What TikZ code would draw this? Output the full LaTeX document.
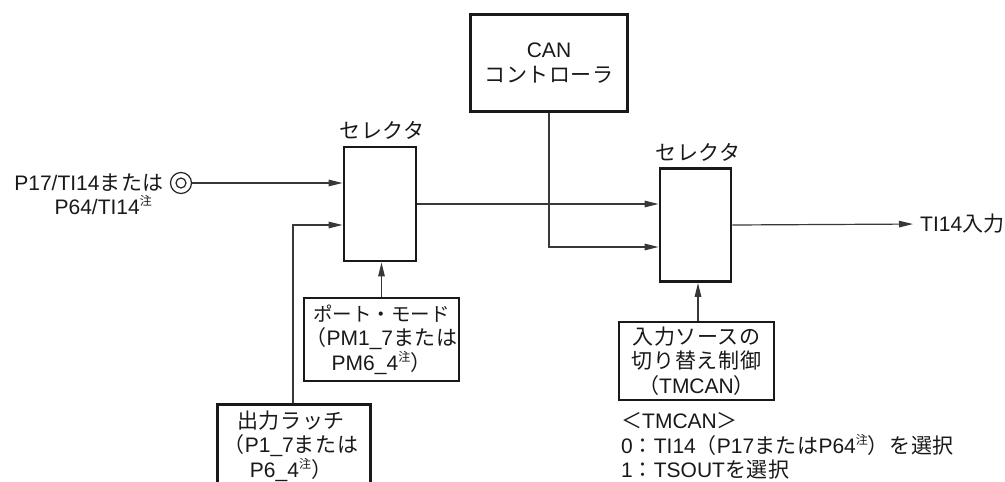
\documentclass[tikz,border=0pt]{standalone}
\usepackage{fontspec}
\setmainfont{Liberation Sans}
\newfontfamily\jp{Noto Sans CJK JP}[LetterSpace=3]
\newfontfamily\jpn{Noto Sans CJK JP}
\usetikzlibrary{arrows.meta}
\newcommand\J[1]{{\jp #1}}
\newcommand\chu{\raisebox{0.75ex}{\fontsize{12}{12}\selectfont\jp 注}}
\begin{document}
\begin{tikzpicture}[x=1pt,y=-1pt,
  box/.style={draw=black!90, line width=2.8pt, inner sep=0, align=center,
              font=\fontsize{21}{24.5}\selectfont, text=black!90},
  txt/.style={font=\fontsize{21}{24.5}\selectfont, inner sep=0, text=black!90},
  wire/.style={draw=black!78, line width=1.2pt},
  arr/.style={wire, -{Triangle[length=14pt,width=6.5pt]}},
]
\clip (0,0) rectangle (1005,482);
\fill[white] (0,0) rectangle (1005,482);

% boxes
\node[box, minimum width=72pt, minimum height=114pt] (sel1) at (380,204) {};
\node[box, minimum width=71pt, minimum height=113pt] (sel2) at (695.5,225) {};
\node[box, minimum width=157pt, minimum height=97pt] (can) at (549,63)
  {CAN\\\J{コントローラ}};
\node[box, minimum width=155pt, minimum height=83pt] (pm) at (381.5,339.5)
  {{\jpn\fontsize{19.5}{24.5}\selectfont ポート・モード}\\\J{（}PM1\_7\J{または}\\PM6\_4\chu\J{）}};
\node[box, minimum width=155pt, minimum height=78pt] (tm) at (696.5,361)
  {\J{入力ソースの}\\\J{切り替え制御}\\\J{（}TMCAN\J{）}};
\node[box, minimum width=153pt, minimum height=95pt] (latch) at (294,452) {};
\node[txt, align=center] (latchtxt) at (291,446)
  {\J{出力ラッチ}\\\J{（}P1\_7\J{または}\\P6\_4\chu\J{）}};

% labels
\node[txt] (sel1lbl) at (382,130) {\J{セレクタ}};
\node[txt] (sel2lbl) at (698,152) {\J{セレクタ}};
\node[txt, anchor=base east] (in1) at (164,190) {P17/TI14\J{または}};
\node[txt, anchor=base east] (in2) at (152,214) {P64/TI14\chu};
\node[txt, anchor=west] (out) at (920,224) {TI14\J{入力}};
\node[txt, anchor=west, align=left] (notes) at (621,446)
  {\J{＜}TMCAN\J{＞}\\0\J{：}TI14\J{（}P17\J{または}P64\chu\J{）を選択}\\1\J{：}TSOUT\J{を選択}};

% pin
\node[circle, draw=black!85, line width=1.2pt, minimum size=21pt, inner sep=0] (pin) at (181,183) {};
\draw[black!85, line width=1.2pt] (pin.center) circle (5pt);

% connectors
\path (sel1.west) ++(0,21) coordinate (s1in2);
\path (sel2.west) ++(0,22) coordinate (s2in2);
\draw[arr] (pin.east) -- (pin.east -| sel1.west);
\draw[arr] (latch.north -| 293,0) |- (s1in2);
\draw[arr] (pm.north) -- (pm.north |- sel1.south);
\draw[arr] (sel1.east) -- (sel1.east -| sel2.west);
\draw[arr] (can.south) |- (s2in2);
\draw[arr] (tm.north -| 698,0) -- (sel2.south -| 698,0);
\draw[arr, shorten >=7pt] (sel2.east) -- (out.west);
\end{tikzpicture}
\end{document}
